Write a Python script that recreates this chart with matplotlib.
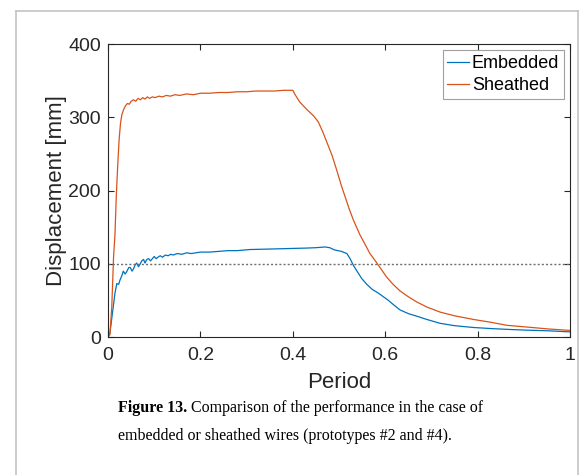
import numpy as np
import matplotlib
matplotlib.use("Agg")
import matplotlib.pyplot as plt
from matplotlib.lines import Line2D

# Values
sheathed_t = [0.000, 0.004, 0.008, 0.012, 0.015, 0.018, 0.021, 0.024, 0.027, 0.030,
              0.034, 0.038, 0.042, 0.046, 0.050, 0.055, 0.060, 0.065, 0.070, 0.075,
              0.080, 0.085, 0.090, 0.096, 0.102, 0.110, 0.118, 0.126, 0.135, 0.145,
              0.155, 0.170, 0.185, 0.200, 0.220, 0.240, 0.260, 0.280, 0.300, 0.320,
              0.340, 0.360, 0.380, 0.400, 0.405, 0.415, 0.430, 0.445, 0.455, 0.465,
              0.475, 0.485, 0.495, 0.505, 0.513, 0.522, 0.531, 0.545, 0.556, 0.567,
              0.582, 0.593, 0.603, 0.617, 0.632, 0.650, 0.668, 0.690, 0.719, 0.750,
              0.791, 0.830, 0.863, 0.900, 0.953, 1.000]
sheathed_d = [0, 3, 40, 110, 140, 195, 235, 270, 292, 304,
              311, 316, 319, 318, 322, 324, 322, 326, 324, 327,
              325, 328, 326, 328, 327, 329, 328, 330, 329, 331,
              330, 332, 331, 333, 333, 334, 334, 335, 335, 336,
              336, 336, 337, 337, 331, 321, 311, 302, 294, 280,
              264, 248, 228, 207, 192, 175, 160, 140, 127, 114,
              101, 91, 82, 72, 63, 55, 48, 41, 34, 29,
              24, 20, 16, 14, 11, 9]

embedded_t = [0.000, 0.004, 0.008, 0.012, 0.015, 0.019, 0.023, 0.026, 0.030, 0.033,
              0.037, 0.041, 0.045, 0.048, 0.052, 0.055, 0.059, 0.062, 0.066, 0.069,
              0.073, 0.077, 0.080, 0.084, 0.088, 0.092, 0.096, 0.100, 0.104, 0.108,
              0.113, 0.118, 0.124, 0.130, 0.136, 0.141, 0.150, 0.160, 0.170, 0.180,
              0.200, 0.220, 0.240, 0.260, 0.280, 0.307, 0.340, 0.370, 0.400, 0.430,
              0.450, 0.470, 0.480, 0.490, 0.505, 0.517, 0.524, 0.531, 0.540, 0.549,
              0.560, 0.572, 0.585, 0.596, 0.607, 0.620, 0.632, 0.650, 0.668, 0.690,
              0.719, 0.750, 0.791, 0.830, 0.863, 0.900, 0.953, 1.000]
embedded_d = [0, 5, 25, 45, 60, 73, 72, 78, 84, 90,
              86, 90, 95, 95, 90, 93, 99, 101, 96, 99,
              104, 106, 101, 106, 107, 104, 107, 110, 107, 109,
              111, 109, 112, 111, 113, 112, 114, 113, 115, 114,
              116, 116, 117, 118, 118, 119.5, 120, 120.5, 121, 121.5,
              122, 123, 122, 119, 117, 114, 107, 98, 89, 80,
              72, 65, 60, 55, 50, 43, 37, 32, 28.5, 24,
              18.7, 15.5, 13, 11.5, 10.5, 9.5, 8.5, 7]

threshold = 100
x_ticks = [0, 0.2, 0.4, 0.6, 0.8, 1]
x_tick_labels = ['0', '0.2', '0.4', '0.6', '0.8', '1']
y_ticks = [0, 100, 200, 300, 400]

plt.rcParams['font.family'] = ['Liberation Sans', 'DejaVu Sans']

fig = plt.figure(figsize=(5.84, 4.75), dpi=100)
ax = fig.add_axes([0.185, 0.2905, 0.791, 0.6165])

blue = '#0072BD'
orange = '#D95319'
ax.plot(embedded_t, embedded_d, color=blue, lw=0.9, label='Embedded')
ax.plot(sheathed_t, sheathed_d, color=orange, lw=0.9, label='Sheathed')
ax.axhline(threshold, color='#707070', lw=1.0, ls=(0, (1.5, 1.5)))

ax.set_xlim(0, 1)
ax.set_ylim(0, 400)
ax.set_xticks(x_ticks)
ax.set_xticklabels(x_tick_labels)
ax.set_yticks(y_ticks)
ax.tick_params(direction='in', top=True, right=True, length=4, width=0.8,
               labelsize=14, colors='#262626', pad=5)
ax.tick_params(axis='x', pad=7)
for s in ax.spines.values():
    s.set_color('#262626')
    s.set_linewidth(0.8)
ax.set_xlabel('Period', fontsize=16, color='#262626', labelpad=6)
ax.set_ylabel('Displacement [mm]', fontsize=16, color='#262626', labelpad=1)

leg = ax.legend(loc='upper right', fontsize=13, handlelength=1.2, handletextpad=0.15,
                borderpad=0.25, labelspacing=0.3, borderaxespad=0.35,
                fancybox=False, framealpha=1)
leg.get_frame().set_edgecolor('#a0a0a0')
leg.get_frame().set_linewidth(0.8)

# page border around the figure
bc = '#c4c4c4'
x0, x1, ytop = 16 / 584, 578 / 584, 1 - 11 / 475
fig.add_artist(Line2D([x0, x0], [0, ytop], color=bc, lw=1.2, transform=fig.transFigure))
fig.add_artist(Line2D([x0, x1], [ytop, ytop], color=bc, lw=1.2, transform=fig.transFigure))
fig.add_artist(Line2D([x1, x1], [0, ytop], color=bc, lw=1.2, transform=fig.transFigure))

# caption
cap_font = ['Liberation Serif', 'DejaVu Serif']
cap_size = 11.5
t1 = fig.text(118 / 584, 1 - 412 / 475, 'Figure 13.', fontsize=cap_size, fontweight='bold',
              family=cap_font, va='baseline')
ax.annotate(' Comparison of the performance in the case of', xy=(1, 0), xycoords=t1,
            fontsize=cap_size, family=cap_font, va='bottom', ha='left',
            annotation_clip=False)
fig.text(118 / 584, 1 - 440 / 475, 'embedded or sheathed wires (prototypes #2 and #4).',
         fontsize=cap_size, family=cap_font, va='baseline')

fig.savefig('out.png', dpi=100)
